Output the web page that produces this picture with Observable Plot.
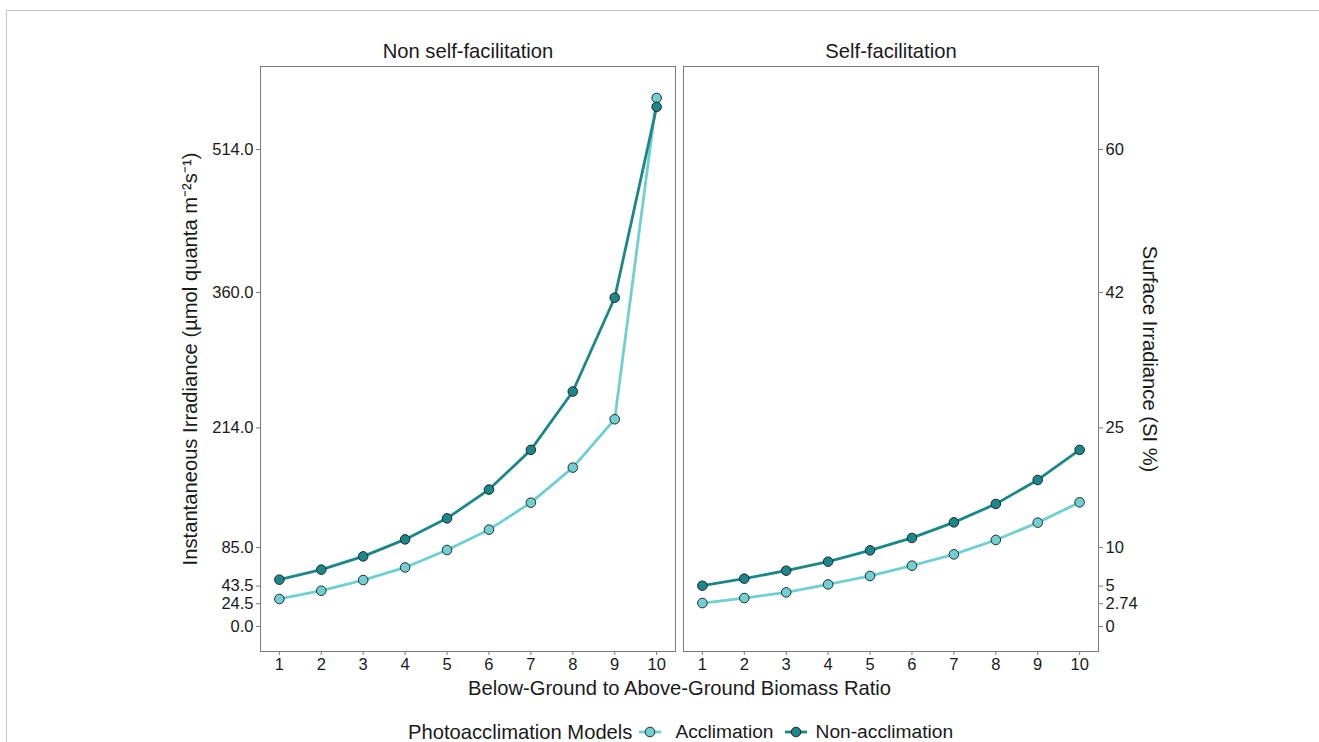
<!DOCTYPE html>
<html>
<head>
<meta charset="utf-8">
<script src="https://cdn.jsdelivr.net/npm/d3@7"></script>
<script src="https://cdn.jsdelivr.net/npm/@observablehq/plot@0.6"></script>
<style>
  html, body { margin: 0; padding: 0; background: #fff; }
  body { width: 1319px; height: 742px; overflow: hidden; position: relative; font-family: "Liberation Sans", Arial, sans-serif; color: #1a1a1a; }
  #border { position: absolute; left: 6px; top: 10px; width: 1400px; height: 800px; border-top: 1px solid #c8c8c8; border-left: 1px solid #c8c8c8; }
  #chart { position: absolute; left: 0; top: 0; }
  #xtitle { position: absolute; left: 260px; width: 839px; top: 677px; text-align: center; font-size: 20.2px; line-height: 22px; }
  #legend { position: absolute; left: 408px; top: 721px; display: flex; align-items: center; font-size: 20.2px; line-height: 22px; white-space: nowrap; }
  #legend .key { display: inline-block; height: 18px; }
  #legend .lab { font-size: 19.2px; }
</style>
</head>
<body>
<div id="border"></div>
<div id="chart"></div>
<div id="xtitle">Below-Ground to Above-Ground Biomass Ratio</div>
<div id="legend"></div>
<script>
// ---- data ----
const ratios = [1, 2, 3, 4, 5, 6, 7, 8, 9, 10];
const facets = ["Non self-facilitation", "Self-facilitation"];
const models = ["Acclimation", "Non-acclimation"];
const nonSelfAcclimation    = [29.6, 38.5, 50.0, 63.6, 82.4, 104.3, 133.4, 171.2, 223.3, 569.6];
const nonSelfNonAcclimation = [50.4, 61.2, 75.5, 93.8, 116.5, 147.5, 190.3, 253.2, 354.3, 560.0];
const selfAcclimation       = [25.2, 30.6, 36.7, 45.3, 54.4, 65.5, 77.7, 93.2, 111.9, 133.8];
const selfNonAcclimation    = [43.9, 51.5, 60.1, 69.8, 82.0, 95.4, 112.2, 132.0, 157.9, 190.3];
const yTickValues = [0, 24.5, 43.5, 85, 214, 360, 514];
const yTickLeftLabels = ["0.0", "24.5", "43.5", "85.0", "214.0", "360.0", "514.0"];
const yTickRightLabels = ["0", "2.74", "5", "10", "25", "42", "60"];
const yTitleLeft = "Instantaneous Irradiance (µmol quanta m⁻²s⁻¹)";
const yTitleRight = "Surface Irradiance (SI %)";
const legendTitle = "Photoacclimation Models";

const lightColor = "#6fcfd1";
const darkColor = "#1b878a";

// ---- build rows ----
const series = [
  {facet: facets[0], model: models[0], values: nonSelfAcclimation},
  {facet: facets[1], model: models[0], values: selfAcclimation},
  {facet: facets[0], model: models[1], values: nonSelfNonAcclimation},
  {facet: facets[1], model: models[1], values: selfNonAcclimation}
];
const rows = series.flatMap(s => s.values.map((v, i) => ({facet: s.facet, model: s.model, ratio: ratios[i], value: v})));

const leftMap = new Map(yTickValues.map((v, i) => [v, yTickLeftLabels[i]]));
const rightMap = new Map(yTickValues.map((v, i) => [v, yTickRightLabels[i]]));

const chart = Plot.plot({
  width: 1319,
  height: 705,
  marginTop: 66,
  marginBottom: 54,
  marginLeft: 260,
  marginRight: 220,
  style: {fontFamily: "'Liberation Sans', Arial, sans-serif", fontSize: "16.5px", color: "#1a1a1a", background: "transparent", overflow: "visible"},
  x: {domain: [0.55, 10.45]},
  y: {domain: [-27, 603.5]},
  fx: {domain: facets, paddingInner: 0.0189, paddingOuter: 0},
  color: {domain: models, range: [lightColor, darkColor]},
  marks: [
    Plot.frame({stroke: "#7a7a7a", strokeWidth: 1}),
    Plot.axisFx({anchor: "top", label: null, tickSize: 0, tickPadding: 9, fontSize: 20.2, fill: "#1a1a1a"}),
    Plot.axisX(ratios, {anchor: "bottom", label: null, tickSize: 4, tickPadding: 3, stroke: "#7a7a7a", fill: "#1a1a1a", fontSize: 16.5}),
    Plot.axisY(yTickValues, {anchor: "left", label: null, tickSize: 4, tickPadding: 3, tickFormat: d => leftMap.get(d), stroke: "#7a7a7a", fill: "#1a1a1a", fontSize: 16.5}),
    Plot.axisY(yTickValues, {anchor: "right", label: null, tickSize: 4, tickPadding: 3, tickFormat: d => rightMap.get(d), stroke: "#7a7a7a", fill: "#1a1a1a", fontSize: 16.5}),
    Plot.text([{f: facets[0], t: yTitleLeft}], {fx: "f", text: "t", frameAnchor: "left", textAnchor: "middle", dx: -70, rotate: -90, fontSize: 20.2, fill: "#1a1a1a"}),
    Plot.text([{f: facets[1], t: yTitleRight}], {fx: "f", text: "t", frameAnchor: "right", textAnchor: "middle", dx: 51, rotate: 90, fontSize: 20.2, fill: "#1a1a1a"}),
    Plot.line(rows, {x: "ratio", y: "value", fx: "facet", stroke: "model", z: "model", strokeWidth: 2.8}),
    Plot.dot(rows, {x: "ratio", y: "value", fx: "facet", fill: "model", stroke: "#1a1a1a", strokeWidth: 0.9, r: 4.8})
  ]
});
document.getElementById("chart").appendChild(chart);

// ---- legend ----
const legend = document.getElementById("legend");
const title = document.createElement("span");
title.textContent = legendTitle;
legend.appendChild(title);
const keyMargins = [[7, 14], [11, 9]];
models.forEach((m, i) => {
  const color = chart.scale("color").apply(m);
  const key = document.createElement("span");
  key.className = "key";
  key.style.marginLeft = keyMargins[i][0] + "px";
  key.style.marginRight = keyMargins[i][1] + "px";
  key.innerHTML = `<svg width="22" height="18" viewBox="0 0 22 18" style="display:block"><line x1="0" y1="9" x2="22" y2="9" stroke="${color}" stroke-width="2.8"/><circle cx="11" cy="9" r="4.8" fill="${color}" stroke="#1a1a1a" stroke-width="0.9"/></svg>`;
  legend.appendChild(key);
  const lab = document.createElement("span");
  lab.className = "lab";
  lab.textContent = m;
  legend.appendChild(lab);
});
</script>
</body>
</html>
